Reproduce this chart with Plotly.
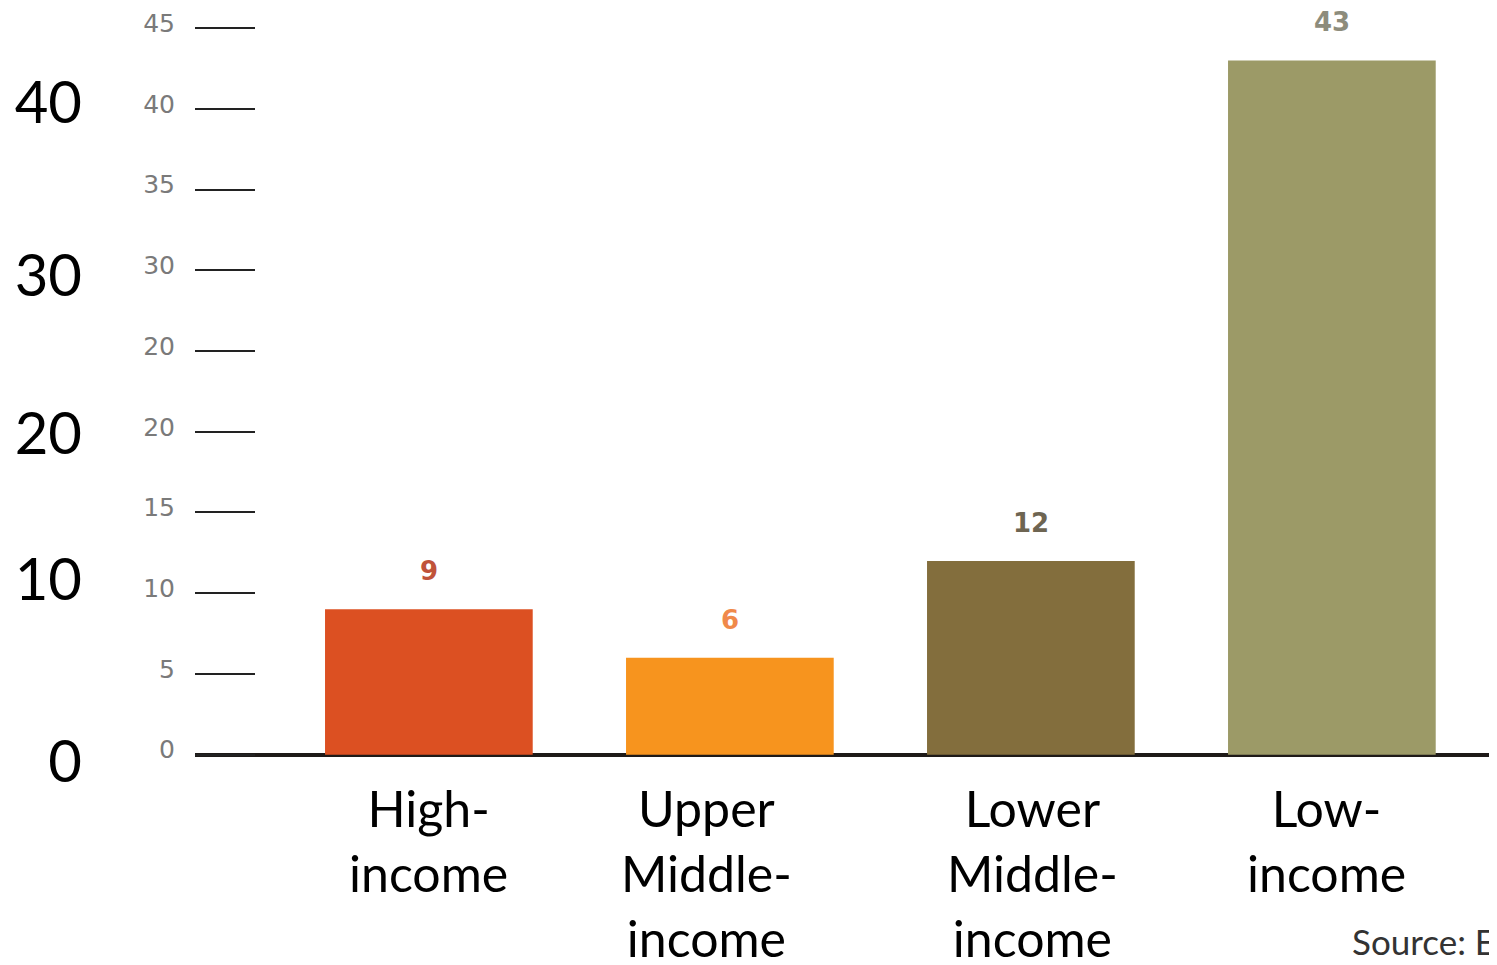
import plotly.graph_objects as go

categories = ["High-income", "Upper Middle-income", "Lower Middle-income", "Low-income"]
category_labels = ["High-<br>income", "Upper<br>Middle-<br>income", "Lower<br>Middle-<br>income", "Low-<br>income"]
values = [9, 6, 12, 43]
value_labels = ["9", "6", "12", "43"]
bar_colors = ["#dc5022", "#f7941e", "#836e3d", "#9c9a67"]
label_colors = ["#c0533a", "#f0894a", "#6e6552", "#8d8c7c"]

small_tick_vals = [0, 5, 10, 15, 20, 25, 30, 35, 40, 45]
small_tick_text = ["0", "5", "10", "15", "20", "20", "30", "35", "40", "45"]

big_tick_vals = [40.37, 29.66, 19.88, 10.84, -0.43]
big_tick_text = ["40", "30", "20", "10", "0"]

label_xshift = [0, -23, 2, -5]
y_range = [-1.2, 46.25]

fig = go.Figure()
fig.add_trace(go.Bar(
    x=categories, y=values,
    marker=dict(color=bar_colors, line=dict(width=0)),
    width=0.69, hoverinfo="skip", showlegend=False,
))
fig.add_trace(go.Scatter(
    x=categories, y=values, yaxis="y2", mode="none",
    hoverinfo="skip", showlegend=False,
))

for c, v, t, col in zip(categories, values, value_labels, label_colors):
    fig.add_annotation(
        x=c, y=v, text=f"<b>{t}</b>", showarrow=False,
        yshift=38, font=dict(family="DejaVu Sans", size=26, color=col),
    )

for c, lab, dx in zip(categories, category_labels, label_xshift):
    fig.add_annotation(
        x=c, y=0, yref="paper", yanchor="top", text=lab, showarrow=False,
        xshift=dx, yshift=-2,
        font=dict(family="Lato", size=50, color="black"),
    )

fig.add_annotation(
    xref="paper", yref="paper", x=0.8926, y=-0.218, xanchor="left", yanchor="middle",
    text="Source: E", showarrow=False,
    font=dict(family="Lato", size=35, color="#333333"),
)

fig.update_layout(
    width=1481, height=949,
    margin=dict(l=187, r=0, t=0, b=183),
    paper_bgcolor="white", plot_bgcolor="white",
    xaxis=dict(
        range=[-0.777, 3.522], showgrid=False, zeroline=False, showline=False,
        ticks="", showticklabels=False,
    ),
    yaxis=dict(
        range=y_range, tickvals=small_tick_vals, ticktext=small_tick_text,
        ticks="inside", ticklen=60, tickwidth=2, tickcolor="#222222",
        tickfont=dict(family="DejaVu Sans", size=25, color="#7a7a7a"),
        ticklabelstandoff=19, ticklabelshift=-5, ticklabeloverflow="allow",
        showgrid=False, showline=False,
        zeroline=True, zerolinecolor="#1e1a18", zerolinewidth=4,
    ),
    yaxis2=dict(
        range=y_range, overlaying="y", anchor="free", position=0, side="left",
        tickvals=big_tick_vals, ticktext=big_tick_text, ticks="",
        tickfont=dict(family="Lato", size=58, color="black"),
        ticklabelstandoff=113,
        showgrid=False, showline=False, zeroline=False,
    ),
)

fig.write_html("out.html")
